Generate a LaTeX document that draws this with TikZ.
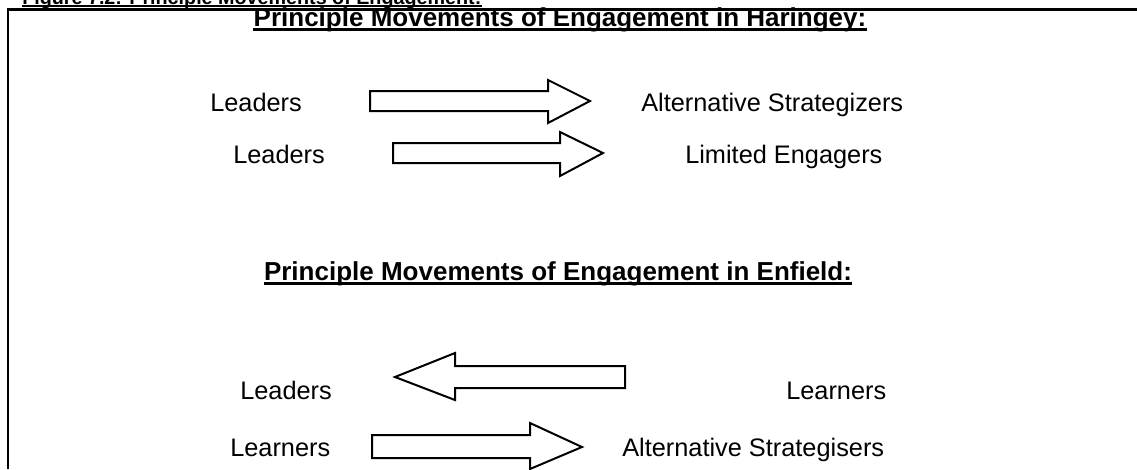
\documentclass[tikz,border=0pt]{standalone}
\usepackage{fontspec}
\setmainfont{Liberation Sans}
\begin{document}
\begin{tikzpicture}[x=0.75pt,y=-0.75pt,
  lbl/.style={inner sep=0pt,anchor=base west,font=\fontsize{19}{22}\selectfont},
  ttl/.style={inner sep=0pt,anchor=base,font=\bfseries\fontsize{19.5}{23}\selectfont},
  ul/.style={line width=2pt},
  blockarrow/.style={draw,line width=1.5pt,fill=white,line join=miter}]
\useasboundingbox (0,0) rectangle (1137,469);
\begin{scope}
\clip (0,0) rectangle (1137,469);
% caption above the frame, running off the top edge
\node[inner sep=0pt,anchor=base west,font=\bfseries\fontsize{14.8}{17}\selectfont] (cap) at (22,4) {Figure 7.2: Principle Movements of Engagement:};
\draw[line width=1.2pt] ([yshift=-1.5pt]cap.base west) -- ([yshift=-1.5pt]cap.base east);
% frame
\draw[line width=1.8pt] (8,469) -- (8,9.5) -- (1137,9.5);
\end{scope}

% Haringey
\node[ttl] (t1) at (560,26) {Principle Movements of Engagement in Haringey:};
\draw[ul] ([yshift=-2.6pt]t1.base west) -- ([yshift=-2.6pt]t1.base east);

\node[lbl] (a1) at (210,111) {Leaders};
\node[lbl] (b1) at (641,111) {Alternative Strategizers};
\draw[blockarrow] (370,91) -- (548,91) -- (548,80) -- (590,101) -- (548,123) -- (548,111) -- (370,111) -- cycle;

\node[lbl] (a2) at (233,163) {Leaders};
\node[lbl] (b2) at (685,163) {Limited Engagers};
\draw[blockarrow] (393,143) -- (560,143) -- (560,132) -- (603,153) -- (560,176) -- (560,163) -- (393,163) -- cycle;

% Enfield
\node[ttl] (t2) at (558,280) {Principle Movements of Engagement in Enfield:};
\draw[ul] ([yshift=-2.6pt]t2.base west) -- ([yshift=-2.6pt]t2.base east);

\node[lbl] (a3) at (240,399) {Leaders};
\node[lbl] (b3) at (786,399) {Learners};
\draw[blockarrow] (625,366) -- (455,366) -- (455,353) -- (395,377) -- (455,400) -- (455,388) -- (625,388) -- cycle;

\node[lbl] (a4) at (230,456) {Learners};
\node[lbl] (b4) at (622,456) {Alternative Strategisers};
\draw[blockarrow] (372,435) -- (530,435) -- (530,423) -- (582,447) -- (530,469) -- (530,458) -- (372,458) -- cycle;
\end{tikzpicture}
\end{document}
